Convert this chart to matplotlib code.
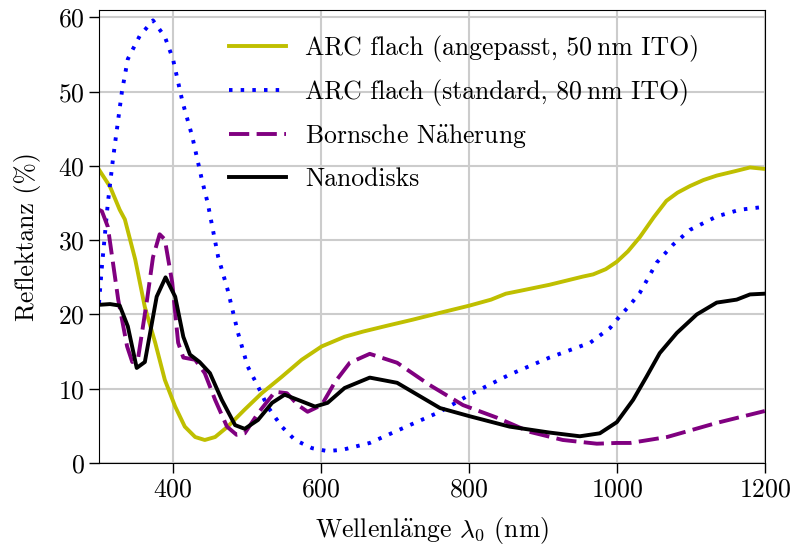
import matplotlib
matplotlib.use("Agg")
import matplotlib.pyplot as plt

plt.rcParams["font.family"] = ["cmr10", "DejaVu Serif"]
plt.rcParams["mathtext.fontset"] = "cm"
plt.rcParams["axes.formatter.use_mathtext"] = True
plt.rcParams["font.size"] = 18.5

# ARC flach (angepasst, 50 nm ITO)
wl_arc50 = [300, 315, 328, 335, 349, 362, 376, 389, 403, 416, 430, 443, 457, 474,
            497, 520, 547, 574, 601, 632, 657, 690, 724, 760, 801, 830, 850, 870,
            909, 954, 968, 985, 1000, 1015, 1031, 1050, 1067, 1082, 1099, 1117,
            1135, 1160, 1180, 1200]
r_arc50 = [39.5, 37.2, 34.1, 32.8, 27.4, 21.0, 16.2, 11.2, 7.6, 4.9, 3.5, 3.1, 3.5, 4.9,
           7.2, 9.4, 11.6, 13.9, 15.7, 17.0, 17.7, 18.5, 19.3, 20.2, 21.2, 22.0, 22.8, 23.2,
           24.0, 25.1, 25.4, 26.1, 27.1, 28.5, 30.4, 33.1, 35.3, 36.4, 37.3, 38.1,
           38.7, 39.3, 39.8, 39.6]

# ARC flach (standard, 80 nm ITO)
wl_arc80 = [300, 304, 312, 319, 331, 339, 355, 373, 389, 400, 413, 426, 439, 447,
            461, 474, 488, 501, 515, 528, 547, 565, 588, 609, 630, 666, 720, 761,
            801, 855, 909, 964, 991, 1000, 1018, 1031, 1054, 1076, 1099, 1135,
            1166, 1200]
r_arc80 = [21.5, 26.5, 35.0, 41.0, 50.0, 54.4, 57.5, 59.6, 57.4, 54.4, 48.6, 44.0, 38.2, 35.0,
           27.8, 23.3, 17.5, 13.0, 10.3, 7.6, 4.9, 3.1, 2.0, 1.6, 1.8, 2.7, 5.1, 6.9,
           9.2, 11.9, 14.2, 16.2, 18.2, 19.3, 21.3, 22.9, 27.0, 29.4, 31.4, 33.2,
           34.1, 34.5]

# Bornsche Näherung
wl_born = [300, 304, 312, 326, 338, 345, 353, 365, 373, 382, 389, 399, 407, 414,
           430, 443, 457, 473, 486, 497, 515, 538, 554, 569, 582, 601, 619, 639,
           666, 703, 747, 792, 838, 882, 927, 973, 1000, 1018, 1068, 1135, 1200]
r_born = [34.1, 33.9, 31.8, 22.0, 15.7, 13.6, 14.2, 22.0, 27.7, 30.8, 30.1, 24.3, 16.2, 14.2,
          13.9, 12.1, 8.5, 4.9, 3.8, 4.0, 6.7, 9.6, 9.4, 7.8, 6.9, 7.8, 10.9, 13.5,
          14.7, 13.5, 10.5, 7.8, 6.1, 4.2, 3.1, 2.6, 2.7, 2.7, 3.5, 5.4, 7.0]

# Nanodisks
wl_disk = [300, 315, 328, 339, 351, 362, 378, 390, 403, 414, 423, 436, 450, 466,
           484, 497, 515, 534, 551, 569, 592, 609, 632, 666, 703, 761, 801, 855,
           909, 950, 977, 1000, 1022, 1040, 1058, 1081, 1108, 1135, 1162, 1180, 1200]
r_disk = [21.3, 21.4, 21.2, 18.4, 12.8, 13.6, 22.4, 25.0, 22.4, 17.0, 14.6, 13.6, 12.1, 8.5,
          5.1, 4.6, 5.8, 8.1, 9.2, 8.5, 7.6, 8.1, 10.1, 11.5, 10.8, 7.4, 6.3, 4.9,
          4.1, 3.6, 4.0, 5.5, 8.5, 11.6, 14.8, 17.5, 20.0, 21.6, 22.0, 22.7, 22.8]

# the umlaut is set with a math accent so it stays in Computer Modern
labels = ["ARC flach (angepasst, 50\u2009nm ITO)",
          "ARC flach (standard, 80\u2009nm ITO)",
          r"Bornsche N$\ddot{\mathrm{a}}$herung",
          "Nanodisks"]

fig = plt.figure(figsize=(7.95, 5.46), dpi=100)
ax = fig.add_axes([0.1245, 0.152, 0.8375, 0.8297])

lw = 2.8
ax.plot(wl_arc50, r_arc50, color=(0.75, 0.75, 0.0), lw=lw, label=labels[0])
ax.plot(wl_arc80, r_arc80, color="blue", lw=lw, ls=(0, (0.9, 2.1)), label=labels[1])
ax.plot(wl_born, r_born, color="purple", lw=lw, ls=(0, (5.2, 1.9)), label=labels[2])
ax.plot(wl_disk, r_disk, color="black", lw=lw, label=labels[3])

ax.set_xlim(300, 1200)
ax.set_ylim(0, 61)
ax.set_xticks([400, 600, 800, 1000, 1200])
ax.set_yticks([0, 10, 20, 30, 40, 50, 60])
ax.tick_params(length=7, width=1.0)
ax.grid(True, color="#cccccc", lw=1.5)
ax.set_axisbelow(True)
ax.set_xlabel(r"Wellenl$\ddot{\mathrm{a}}$nge $\lambda_0$ (nm)", labelpad=10)
ax.set_ylabel("Reflektanz (%)", labelpad=12)
ax.legend(loc="upper left", bbox_to_anchor=(0.196, 0.945), frameon=False,
          handlelength=2.2, handletextpad=0.75, borderpad=0, borderaxespad=0,
          labelspacing=0.65)

fig.savefig("out.png", dpi=100)
